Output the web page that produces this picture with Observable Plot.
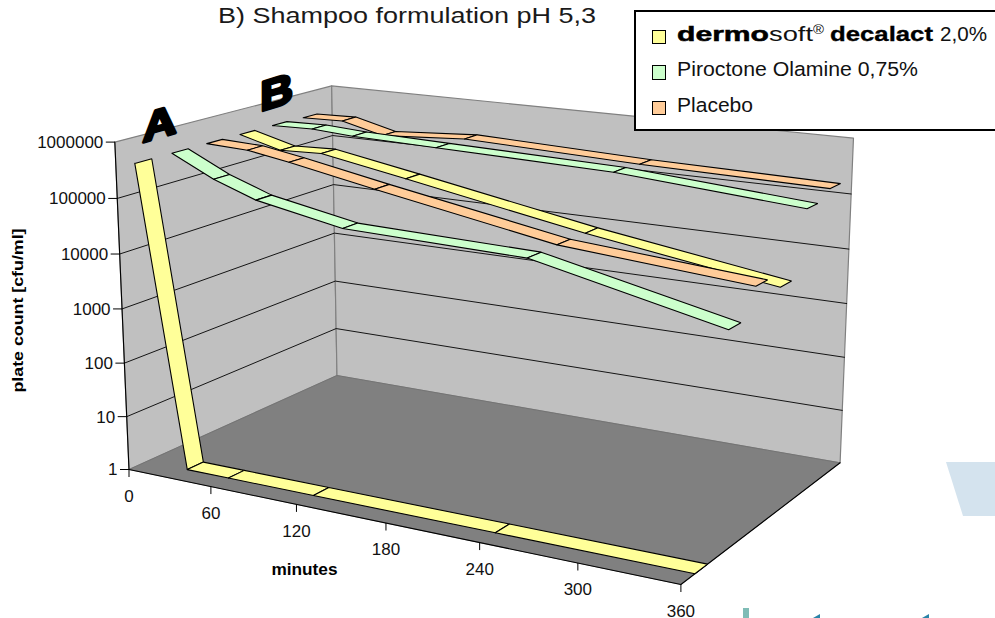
<!DOCTYPE html>
<html><head><meta charset="utf-8">
<style>
html,body{margin:0;padding:0;background:#fff;overflow:hidden;width:995px;height:618px}
#wrap{position:relative;width:995px;height:618px;overflow:hidden;font-family:"Liberation Sans",Arial,sans-serif;color:#111}
#wrap svg{position:absolute;left:0;top:0;display:block}
.t{position:absolute;white-space:pre;transform-origin:0 50%;line-height:1}
.box{position:absolute;left:634px;top:10px;width:400px;height:117px;border:2px solid #000;background:#fff}
.sw{position:absolute;left:652px;width:12px;height:12.5px;border:1.5px solid #000}
.deco{position:absolute}
</style>
<script src="https://cdn.jsdelivr.net/npm/d3@7"></script>
<script src="https://cdn.jsdelivr.net/npm/@observablehq/plot@0.6"></script>
</head><body><div id="wrap"></div>
<script>
// ---------- chart values ----------
const minutes = [0, 30, 60, 120, 240, 360];
const dermosoftA = [340000, 1, 1, 1, 1, 1];
const pirocotoneA = [340000, 141000, 74000, 37000, 31000, 5900];
const placeboA = [340000, 316000, 234000, 117000, 31600, 17800];
const dermosoftB = [340000, 209000, 224000, 117000, 30900, 10000];
const pirocotoneB = [340000, 355000, 316000, 288000, 240000, 135000];
const placeboB = [331000, 347000, 219000, 282000, 219000, 193000];
const seriesValues = [dermosoftA, pirocotoneA, placeboA, dermosoftB, pirocotoneB, placeboB];
const seriesFill = ["#ffff99", "#ccffcc", "#ffcc99", "#ffff99", "#ccffcc", "#ffcc99"];
const seriesDepth = [0.077, 0.234, 0.388, 0.541, 0.697, 0.85];
const ribbonDepth = 0.071;
const minuteTicks = [0, 60, 120, 180, 240, 300, 360];
const countTicks = [1, 10, 100, 1000, 10000, 100000, 1000000];
const legendNames = ["dermosoft decalact 2,0%", "Piroctone Olamine 0,75%", "Placebo"];
const legendFill = ["#ffff99", "#ccffcc", "#ffcc99"];

// ---------- perspective camera of the 3-D box (calibrated on its visible corners) ----------
const floorCorners = [[0,0,128.5,469],[1,0,680.4,584],[1,1,839.6,462.3],[0,1,336.5,375]];
const topCorners = [[0,0,114.5,141.7],[0,1,331,85],[1,1,853,138]];
function solve(A,b){const n=b.length,M=A.map((r,i)=>[...r,b[i]]);for(let i=0;i<n;i++){let p=i;for(let k=i+1;k<n;k++)if(Math.abs(M[k][i])>Math.abs(M[p][i]))p=k;[M[i],M[p]]=[M[p],M[i]];for(let k=0;k<n;k++){if(k===i)continue;const f=M[k][i]/M[i][i];for(let j=i;j<=n;j++)M[k][j]-=f*M[i][j];}}return M.map((r,i)=>r[n]/r[i]);}
const camera=(()=>{let A=[],b=[];for(const[u,w,x,y]of floorCorners){A.push([u,w,1,0,0,0,-u*x,-w*x]);b.push(x);A.push([0,0,0,u,w,1,-u*y,-w*y]);b.push(y);}
const h=solve(A,b);const H=[[h[0],h[1],h[2]],[h[3],h[4],h[5]],[h[6],h[7],1]];let R=[],s=[];
for(const[u,w,x,y]of topCorners){const ax=H[0][0]*u+H[0][1]*w+H[0][2],ay=H[1][0]*u+H[1][1]*w+H[1][2],W=H[2][0]*u+H[2][1]*w+H[2][2];R.push([1,0,-x]);s.push(x*W-ax);R.push([0,1,-y]);s.push(y*W-ay);}
const NA=[0,1,2].map(i=>[0,1,2].map(j=>R.reduce((a,r)=>a+r[i]*r[j],0))),Nb=[0,1,2].map(i=>R.reduce((a,r,k)=>a+r[i]*s[k],0)),p=solve(NA,Nb);
return [[H[0][0],H[0][1],p[0],H[0][2]],[H[1][0],H[1][1],p[1],H[1][2]],[H[2][0],H[2][1],p[2],H[2][2]]];})();
function project(minute,count,depth){const X=[minute/360,depth,Math.log10(count)/6,1],d=(r)=>r[0]*X[0]+r[1]*X[1]+r[2]*X[2]+r[3]*X[3],w=d(camera[2]);return [d(camera[0])/w,d(camera[1])/w];}
const pt=(m,c,d,id,extra)=>{const[x,y]=project(m,c,d);return {x,y,id,...extra};};
const poly=(id,corners,extra)=>[...corners,corners[0]].map(([m,c,d])=>pt(m,c,d,id,extra));

// ---------- tables built from the values ----------
const maxM=360,maxC=1e6,minC=1;
const walls=[
 ...poly("left",[[0,minC,0],[0,maxC,0],[0,maxC,1],[0,minC,1]]),
 ...poly("back",[[0,minC,1],[0,maxC,1],[maxM,maxC,1],[maxM,minC,1]])];
const floor=poly("floor",[[0,minC,0],[maxM,minC,0],[maxM,minC,1],[0,minC,1]]);
const gridLevels=countTicks.slice(1,-1).flatMap(c=>[[0,c,0],[0,c,1],[maxM,c,1]].map(([m,k,d])=>pt(m,k,d,"g"+c)));
const blackEdges=[
 ...[[0,minC,0],[0,maxC,0]].map(([m,c,d])=>pt(m,c,d,"e1")),
 ...[[0,minC,0],[maxM,minC,0],[maxM,minC,1]].map(([m,c,d])=>pt(m,c,d,"e2"))];
const yTicks=countTicks.map(c=>pt(0,c,0,c,{label:String(c)}));
const xTicks=minuteTicks.map(m=>pt(m,minC,0,m,{label:String(m)}));
const ribbons=seriesValues.flatMap((vals,s)=>vals.slice(0,-1).flatMap((v,i)=>{
  const d0=seriesDepth[s],d1=d0+ribbonDepth;
  return poly(`s${s}-${i}`,[[minutes[i],v,d0],[minutes[i+1],vals[i+1],d0],[minutes[i+1],vals[i+1],d1],[minutes[i],v,d1]],{s,i});
}));
// back series first so nearer ribbons cover them
ribbons.sort((a,b)=>b.s-a.s||a.i-b.i);

const stretch=(len)=>function(index,scales,values,dims,ctx,next){const g=next(index,scales,values,dims,ctx);d3.select(g).selectAll("text").attr("textLength",len).attr("lengthAdjust","spacingAndGlyphs");return g;};
const skew=(deg,sx)=>function(index,scales,values,dims,ctx,next){const g=next(index,scales,values,dims,ctx);d3.select(g).selectAll("text").attr("transform",function(){return (this.getAttribute("transform")||"")+` skewY(${deg}) scale(${sx},1)`;});return g;};

const chart=Plot.plot({
 width:995,height:618,margin:0,
 x:{domain:[0,995],range:[0,995],axis:null},
 y:{domain:[0,618],range:[0,618],axis:null},
 style:{fontFamily:'"Liberation Sans",Arial,sans-serif',background:"transparent",color:"#111"},
 marks:[
  Plot.line(walls,{x:"x",y:"y",z:"id",fill:"#c0c0c0",stroke:"#808080",strokeWidth:1.2,curve:"linear"}),
  Plot.line(floor,{x:"x",y:"y",z:"id",fill:"#808080",stroke:"#6e6e6e",strokeWidth:0.7,curve:"linear"}),
  Plot.line(gridLevels,{x:"x",y:"y",z:"id",stroke:"#000",strokeWidth:0.9,curve:"linear"}),
  Plot.line(blackEdges,{x:"x",y:"y",z:"id",stroke:"#000",strokeWidth:1.1,curve:"linear"}),
  Plot.link(yTicks,{x1:"x",y1:"y",x2:d=>d.x-9,y2:"y",stroke:"#000",strokeWidth:1}),
  Plot.link(xTicks,{x1:"x",y1:"y",x2:"x",y2:d=>d.y+7.5,stroke:"#000",strokeWidth:1}),
  Plot.text(yTicks,{x:d=>d.x-11.5,y:d=>d.y+0.5,text:"label",textAnchor:"end",fontSize:17,fill:"#111"}),
  Plot.text(xTicks,{x:"x",y:d=>d.y+27,text:"label",textAnchor:"middle",fontSize:17,fill:"#111"}),
  Plot.line(ribbons,{x:"x",y:"y",z:"id",fill:d=>seriesFill[d.s],stroke:"#000",strokeWidth:1.1,strokeLinejoin:"miter",curve:"linear"}),
  Plot.text(["minutes"],{x:()=>304,y:()=>569,text:d=>d,fontSize:16,fontWeight:"bold",fill:"#000",render:stretch(66)}),
  Plot.text(["plate count [cfu/ml]"],{x:()=>18,y:()=>310,text:d=>d,rotate:-90,fontSize:15.5,fontWeight:"bold",fill:"#000",render:stretch(164)}),
  Plot.text(["A"],{x:()=>159,y:()=>137,text:d=>d,textAnchor:"middle",lineAnchor:"bottom",fontSize:41,fontWeight:"bold",fill:"#000",stroke:"#000",strokeWidth:3,render:skew(-16,1.15)}),
  Plot.text(["B"],{x:()=>276,y:()=>106,text:d=>d,textAnchor:"middle",lineAnchor:"bottom",fontSize:42,fontWeight:"bold",fill:"#000",stroke:"#000",strokeWidth:3,render:skew(-17,1.08)})
 ]
});
const wrap=document.getElementById("wrap");
wrap.appendChild(chart);

// ---------- title, legend, clipped page decorations ----------
function add(cls,css){const e=document.createElement("div");e.className=cls;e.style.cssText=css;wrap.appendChild(e);return e;}
function txt(s,left,base,width,fs,extra){const e=add("t",`left:${left}px;top:${base-0.85*fs-0.0}px;font-size:${fs}px;${extra||""}`);e.textContent=s;const w=e.getBoundingClientRect().width;e.style.transform=`scaleX(${width/w})`;return e;}
add("deco","left:946px;top:462px;width:49px;height:54px;background:#d4e3ee;clip-path:polygon(0 0,100% 0,100% 100%,17px 100%)");
add("deco","left:743px;top:608px;width:6px;height:10px;background:#7fbcb6");
add("deco","left:813px;top:614px;width:7px;height:4px;background:#2a84a8;clip-path:polygon(100% 0,100% 100%,0 100%)");
add("deco","left:922px;top:614px;width:7px;height:4px;background:#2a84a8;clip-path:polygon(100% 0,100% 100%,0 100%)");
add("box","");
txt("B) Shampoo formulation pH 5,3",218,24,378,22,"color:#1a1a1a");
[29.5,65,100.5].forEach((y,i)=>add("sw",`top:${y}px;background:${legendFill[i]}`));
const [name0,name1,name2]=legendNames;
const bold="font-weight:bold;-webkit-text-stroke:0.5px #000;color:#000;";
const p0=name0.match(/^(dermo)(soft)\s(decalact)\s(.*)$/);
txt(p0[1],677,41,92,20.5,bold);
txt(p0[2],769,41,44,20.5);
txt("®",813,34,11,12);
txt(p0[3],830,41,103,20.5,"font-weight:bold;-webkit-text-stroke:0.3px #000;color:#000;");
txt(p0[4],940,41,47,20.5);
txt(name1,677,76.7,241,20.5);
txt(name2,677,112.7,76,20.5);
</script></body></html>
